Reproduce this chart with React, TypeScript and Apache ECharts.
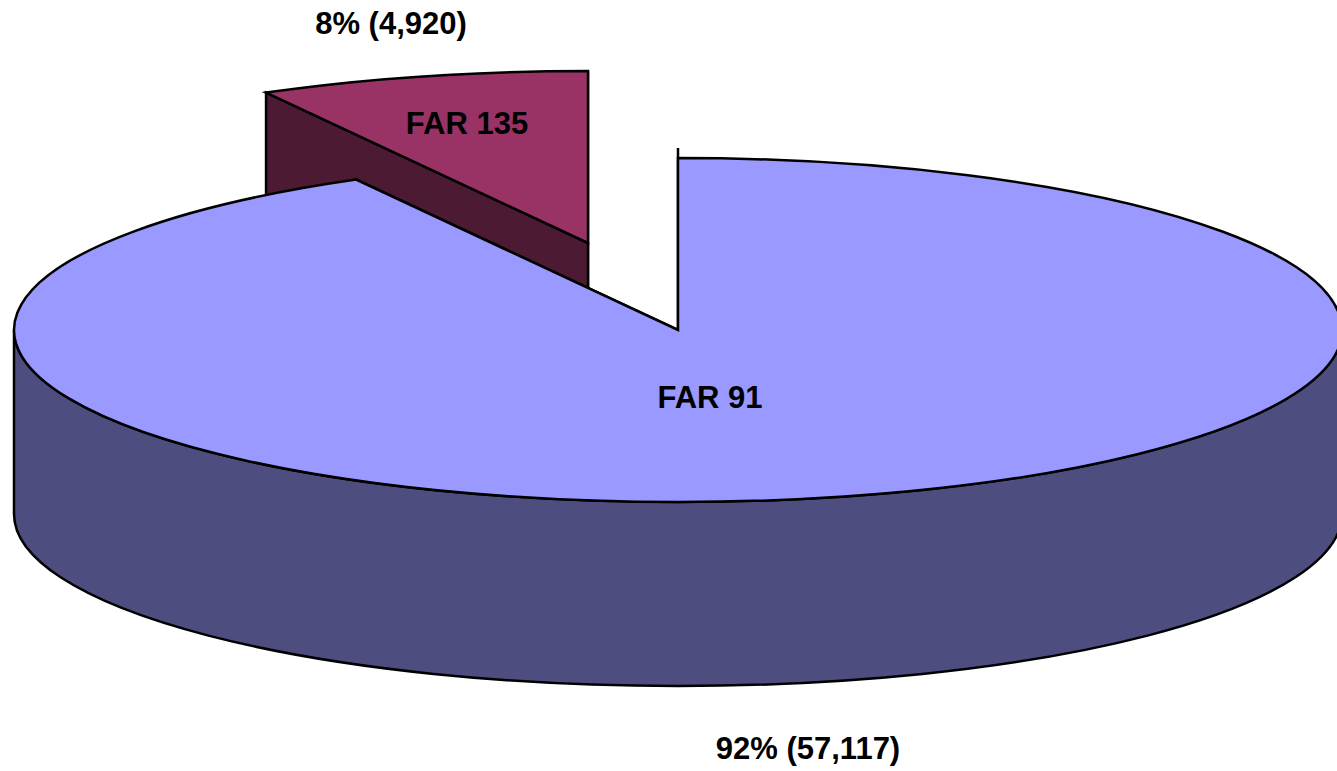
import React, { useEffect, useRef } from "react";
import * as echarts from "echarts";

// Share of aircraft by operating rule
const categories = ["FAR 91", "FAR 135"];
const counts = [57117, 4920];
const shareLabels = ["92% (57,117)", "8% (4,920)"];

const WIDTH = 1337;
const HEIGHT = 771;
const CX = 678;
const CY = 330;
const RX = 664;
const RY = 172;
const DEPTH = 184;
const EXPLODE_DX = [0, -90];
const EXPLODE_DY = [0, -87];
const TOP_COLORS = ["#9999FF", "#993366"];
const WALL_COLORS = ["#4D4D80", "#4D1A33"];
const NAME_POS = [[710, 397.5], [467, 123]];
const SHARE_POS = [[808, 748.5], [391, 23.5]];
const LABEL_FONT = 'bold 31px "Liberation Sans", Arial, sans-serif';
const OUTLINE = { stroke: "#000000", lineWidth: 2.5, lineJoin: "miter" };
// Slight angular foreshortening of the tilted disc
const TILT_WARP = 0.0094;

const total = counts.reduce((a, b) => a + b, 0);

// Angles run clockwise from twelve o'clock; the disc is a flattened circle.
const onRim = (cx: number, cy: number, angle: number): [number, number] => {
  const a = angle + TILT_WARP * Math.sin(2 * angle);
  return [cx + RX * Math.sin(a), cy - RY * Math.cos(a)];
};

const arcTo = (p: [number, number], large: boolean, sweep: boolean) =>
  `A ${RX} ${RY} 0 ${large ? 1 : 0} ${sweep ? 1 : 0} ${p[0]} ${p[1]}`;

function sliceElements(index: number) {
  const before = counts.slice(0, index).reduce((a, b) => a + b, 0);
  const start = (before / total) * Math.PI * 2;
  const end = ((before + counts[index]) / total) * Math.PI * 2;
  const cx = CX + EXPLODE_DX[index];
  const cy = CY + EXPLODE_DY[index];
  const p0 = onRim(cx, cy, start);
  const p1 = onRim(cx, cy, end);
  const children: any[] = [];

  const wallStyle = { fill: WALL_COLORS[index], ...OUTLINE };

  // Radial faces, only seen where the disc above does not cover them
  for (const p of [p1, p0]) {
    children.push({
      type: "polygon",
      shape: {
        points: [
          [cx, cy],
          p,
          [p[0], p[1] + DEPTH],
          [cx, cy + DEPTH],
        ],
      },
      style: wallStyle,
    });
  }

  // Outer wall for the part of the rim that faces the viewer
  const from = Math.max(start, Math.PI / 2);
  const to = Math.min(end, (Math.PI * 3) / 2);
  if (to > from) {
    const a = onRim(cx, cy, from);
    const b = onRim(cx, cy, to);
    const large = to - from > Math.PI;
    children.push({
      type: "path",
      shape: {
        pathData:
          `M ${a[0]} ${a[1]} L ${a[0]} ${a[1] + DEPTH} ` +
          arcTo([b[0], b[1] + DEPTH], large, true) +
          ` L ${b[0]} ${b[1]} ` +
          arcTo(a, large, false) +
          " Z",
        layout: "none",
      },
      style: wallStyle,
    });
  }

  // Top of the slice
  children.push({
    type: "path",
    shape: {
      pathData:
        `M ${cx} ${cy} L ${p0[0]} ${p0[1]} ` +
        arcTo(p1, end - start > Math.PI, true) +
        " Z",
      layout: "none",
    },
    style: { fill: TOP_COLORS[index], ...OUTLINE },
  });

  // Short spur where the big slice's straight edge meets the rim
  if (index === 0) {
    children.push({
      type: "line",
      shape: { x1: cx, y1: cy - RY, x2: cx, y2: cy - RY - 10 },
      style: { stroke: "#000000", lineWidth: 2.5 },
    });
  }

  return { type: "group", children };
}

function textElement(text: string, pos: number[]) {
  return {
    type: "text",
    style: {
      text,
      x: pos[0],
      y: pos[1],
      font: LABEL_FONT,
      fill: "#000000",
      align: "center",
      verticalAlign: "middle",
    },
  };
}

// The exploded slice goes first so that the big slice overlaps its wall.
const drawOrder = [1, 0];

export default function App() {
  const ref = useRef<HTMLDivElement>(null);

  useEffect(() => {
    const chart = echarts.init(ref.current!, undefined, { renderer: "svg" });
    chart.setOption({
      animation: false,
      backgroundColor: "#ffffff",
      series: [
        {
          type: "custom",
          coordinateSystem: "none",
          silent: true,
          data: drawOrder.map((i) => ({ name: categories[i], value: [i, counts[i]] })),
          renderItem: (_params: any, api: any) => sliceElements(api.value(0)),
        },
        {
          type: "custom",
          coordinateSystem: "none",
          silent: true,
          z: 5,
          data: categories.map((name, i) => ({ name, value: [i] })),
          renderItem: (_params: any, api: any) => {
            const i = api.value(0);
            return {
              type: "group",
              children: [
                textElement(categories[i], NAME_POS[i]),
                textElement(shareLabels[i], SHARE_POS[i]),
              ],
            };
          },
        },
      ],
    });
    return () => chart.dispose();
  }, []);

  return (
    <div
      ref={ref}
      style={{ position: "fixed", left: 0, top: 0, width: WIDTH, height: HEIGHT }}
    />
  );
}
